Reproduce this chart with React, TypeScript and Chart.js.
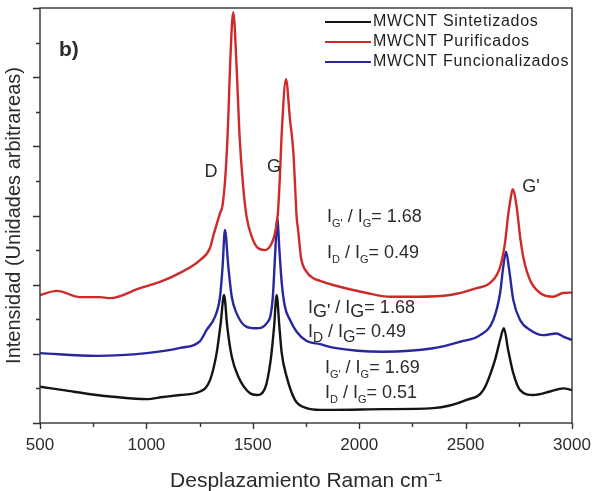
import { useEffect, useRef } from "react";
import { Chart, registerables } from "chart.js";

Chart.register(...registerables);

// Raman shift (cm-1) and intensity (arbitrary units) for each sample
const sintetizadosX = [500, 610, 766, 843, 1001, 1078, 1158, 1252, 1299, 1330, 1349, 1365, 1380, 1401, 1432, 1487, 1518, 1557, 1584, 1600, 1612, 1625, 1636, 1659, 1698, 1753, 1816, 1878, 2113, 2348, 2505, 2583, 2638, 2662, 2680, 2700, 2724, 2756, 2818, 2897, 2959, 3000];
const sintetizadosY = [1.05, 0.95, 0.81, 0.76, 0.69, 0.75, 0.81, 0.91, 1.24, 2.02, 2.88, 3.7, 2.78, 1.92, 1.34, 0.86, 0.81, 1.0, 1.82, 2.78, 3.7, 2.78, 2.02, 1.34, 0.67, 0.43, 0.38, 0.38, 0.4, 0.43, 0.67, 0.95, 1.82, 2.4, 2.74, 2.11, 1.44, 0.95, 0.81, 0.91, 1.0, 0.95];

const purificadosX = [500, 580, 688, 782, 829, 970, 1064, 1158, 1252, 1299, 1313, 1346, 1358, 1374, 1385, 1393, 1408, 1424, 1437, 1455, 1471, 1495, 1524, 1557, 1589, 1604, 1618, 1628, 1636, 1656, 1675, 1690, 1698, 1706, 1713, 1727, 1753, 1783, 1816, 1877, 2035, 2145, 2270, 2427, 2552, 2615, 2662, 2685, 2699, 2713, 2721, 2740, 2756, 2774, 2803, 2850, 2911, 2958, 3000];
const purificadosY = [3.7, 3.82, 3.64, 3.64, 3.61, 3.9, 4.08, 4.34, 4.71, 5.06, 5.38, 6.07, 6.3, 7.4, 8.85, 10.29, 11.88, 10.29, 8.39, 6.82, 5.96, 5.39, 5.06, 5.0, 5.2, 5.49, 6.07, 7.23, 8.39, 9.94, 8.76, 7.89, 6.94, 5.96, 5.58, 4.77, 4.37, 4.19, 4.11, 3.99, 3.76, 3.65, 3.65, 3.7, 3.9, 4.05, 4.51, 5.2, 5.96, 6.54, 6.76, 6.25, 5.39, 4.71, 4.13, 3.76, 3.65, 3.76, 3.77];

const funcionalizadosX = [500, 766, 1001, 1158, 1252, 1283, 1322, 1346, 1358, 1369, 1385, 1401, 1424, 1471, 1518, 1565, 1593, 1606, 1615, 1625, 1636, 1651, 1675, 1706, 1753, 1816, 1877, 2112, 2347, 2474, 2568, 2630, 2662, 2677, 2690, 2705, 2724, 2756, 2803, 2865, 2928, 2959, 3000];
const funcionalizadosY = [2.02, 1.94, 2.02, 2.17, 2.37, 2.69, 3.07, 3.65, 4.52, 5.58, 4.52, 3.65, 3.17, 2.78, 2.74, 2.88, 3.56, 5.0, 5.92, 5.0, 4.05, 3.36, 2.98, 2.64, 2.37, 2.28, 2.18, 2.06, 2.16, 2.35, 2.54, 2.98, 3.75, 4.52, 4.95, 4.42, 3.56, 2.98, 2.69, 2.54, 2.59, 2.5, 2.4];

const seriesNames = ["MWCNT Sintetizados", "MWCNT Purificados", "MWCNT Funcionalizados"];
const seriesColors = ["#141414", "#cf2a2a", "#27279e"];

const xTickStep = 500;
const xMinorStep = 250;
const yMax = 12;

const FONT = "'Liberation Sans', Arial, sans-serif";
const TEXT = "#2b2b2b";

type Run = { t: string; sub?: boolean; size?: number; drop?: number };

// Annotation positions in data coordinates (cm-1, a.u.)
const bandLabels = [
  { text: "D", x: 1303, y: 7.26 },
  { text: "G", x: 1600, y: 7.4 },
  { text: "G'", x: 2807, y: 6.82 },
];

const ratioBlocks: { x: number; y: number; runs: Run[] }[] = [
  { x: 1849, y: 5.96, runs: [{ t: "I" }, { t: "G'", sub: true }, { t: " / I" }, { t: "G", sub: true }, { t: "= 1.68" }] },
  { x: 1849, y: 4.92, runs: [{ t: "I" }, { t: "D", sub: true }, { t: " / I" }, { t: "G", sub: true }, { t: "= 0.49" }] },
  { x: 1759, y: 3.33, runs: [{ t: "I" }, { t: "G'", sub: true, size: 18, drop: 4 }, { t: " / I" }, { t: "G", sub: true, size: 18, drop: 4 }, { t: "= 1.68" }] },
  { x: 1759, y: 2.63, runs: [{ t: "I" }, { t: "D", sub: true, size: 14, drop: 6 }, { t: " / I" }, { t: "G", sub: true, size: 16, drop: 6 }, { t: "= 0.49" }] },
  { x: 1839, y: 1.59, runs: [{ t: "I" }, { t: "G'", sub: true }, { t: " / I" }, { t: "G", sub: true }, { t: "= 1.69" }] },
  { x: 1839, y: 0.87, runs: [{ t: "I" }, { t: "D", sub: true }, { t: " / I" }, { t: "G", sub: true }, { t: "= 0.51" }] },
];

const zip = (xs: number[], ys: number[]) => xs.map((x, i) => ({ x, y: ys[i] }));

function drawRuns(ctx: CanvasRenderingContext2D, x: number, y: number, runs: Run[]) {
  let cx = x;
  ctx.textBaseline = "middle";
  ctx.textAlign = "left";
  for (const r of runs) {
    const size = r.sub ? r.size ?? 11 : 18;
    const dy = r.sub ? r.drop ?? 7 : 0;
    ctx.font = `${size}px ${FONT}`;
    ctx.fillText(r.t, cx, y + dy);
    cx += ctx.measureText(r.t).width;
  }
}

const framePlugin = {
  id: "frame",
  afterDatasetsDraw(chart: any) {
    const { ctx, chartArea: a, scales } = chart;
    const xs = scales.x;
    const ys = scales.y;
    ctx.save();
    ctx.strokeStyle = "#333";
    ctx.lineWidth = 1.4;
    ctx.strokeRect(a.left, a.top, a.right - a.left, a.bottom - a.top);

    ctx.beginPath();
    for (let v = xs.min; v <= xs.max; v += xMinorStep) {
      const px = Math.round(xs.getPixelForValue(v)) + 0.5;
      const len = v % xTickStep === 0 ? 6 : 4;
      ctx.moveTo(px, a.bottom);
      ctx.lineTo(px, a.bottom + len);
    }
    for (let v = 0; v <= yMax; v++) {
      const py = Math.round(ys.getPixelForValue(v)) + 0.5;
      const len = v % 2 === 0 ? 7 : 4;
      ctx.moveTo(a.left, py);
      ctx.lineTo(a.left - len, py);
    }
    ctx.stroke();

    // legend
    const lx = a.left + 285;
    chart.data.datasets.forEach((ds: any, i: number) => {
      const ly = a.top + 14 + i * 20;
      ctx.strokeStyle = ds.borderColor;
      ctx.lineWidth = 2;
      ctx.beginPath();
      ctx.moveTo(lx, ly);
      ctx.lineTo(lx + 46, ly);
      ctx.stroke();
      ctx.fillStyle = "#1e1e1e";
      ctx.font = `16px ${FONT}`;
      ctx.textAlign = "left";
      ctx.textBaseline = "middle";
      (ctx as any).letterSpacing = "0.7px";
      ctx.fillText(ds.label, lx + 48, ly);
      (ctx as any).letterSpacing = "0px";
    });

    ctx.fillStyle = TEXT;
    ctx.font = `bold 21px ${FONT}`;
    ctx.textAlign = "center";
    ctx.textBaseline = "middle";
    ctx.fillText("b)", xs.getPixelForValue(636), ys.getPixelForValue(10.79));

    ctx.font = `18px ${FONT}`;
    for (const b of bandLabels) {
      ctx.fillText(b.text, xs.getPixelForValue(b.x), ys.getPixelForValue(b.y));
    }
    for (const r of ratioBlocks) {
      drawRuns(ctx, xs.getPixelForValue(r.x), ys.getPixelForValue(r.y), r.runs);
    }
    ctx.restore();
  },
};

export default function App() {
  const ref = useRef<HTMLCanvasElement>(null);

  useEffect(() => {
    document.body.style.margin = "0";
    const canvas = ref.current;
    if (!canvas) return;
    const xsList = [sintetizadosX, purificadosX, funcionalizadosX];
    const ysList = [sintetizadosY, purificadosY, funcionalizadosY];
    const chart = new Chart(canvas, {
      type: "line",
      data: {
        datasets: seriesNames.map((name, i) => ({
          label: name,
          data: zip(xsList[i], ysList[i]),
          borderColor: seriesColors[i],
          backgroundColor: seriesColors[i],
          borderWidth: 2.4,
          pointRadius: 0,
          cubicInterpolationMode: "monotone" as const,
          fill: false,
        })),
      },
      options: {
        responsive: false,
        animation: false,
        layout: { padding: { top: 8, right: 20, left: 0, bottom: 0 } },
        plugins: { legend: { display: false }, tooltip: { enabled: false } },
        scales: {
          x: {
            type: "linear",
            min: 500,
            max: 3000,
            grid: { display: false, drawTicks: false },
            border: { display: false },
            ticks: {
              stepSize: xTickStep,
              padding: 12,
              color: TEXT,
              font: { family: FONT, size: 17 },
              maxRotation: 0,
              callback: (v: any) => String(v),
            },
            title: {
              display: true,
              text: "Desplazamiento Raman cm⁻¹",
              color: TEXT,
              font: { family: FONT, size: 21 },
              padding: { top: 0, bottom: -3 },
            },
            afterFit: (s: any) => {
              s.height = 68;
              s.paddingRight = 0;
              s.paddingLeft = 0;
            },
          },
          y: {
            min: 0,
            max: yMax,
            grid: { display: false, drawTicks: false },
            border: { display: false },
            ticks: { display: false },
            title: {
              display: true,
              text: "Intensidad (Unidades arbitrareas)",
              color: TEXT,
              font: { family: FONT, size: 20 },
              padding: { top: 2, bottom: 0 },
            },
            afterFit: (s: any) => {
              s.width = 40;
            },
          },
        },
      },
      plugins: [framePlugin],
    });
    return () => chart.destroy();
  }, []);

  return <canvas ref={ref} width={592} height={491} style={{ display: "block" }} />;
}
